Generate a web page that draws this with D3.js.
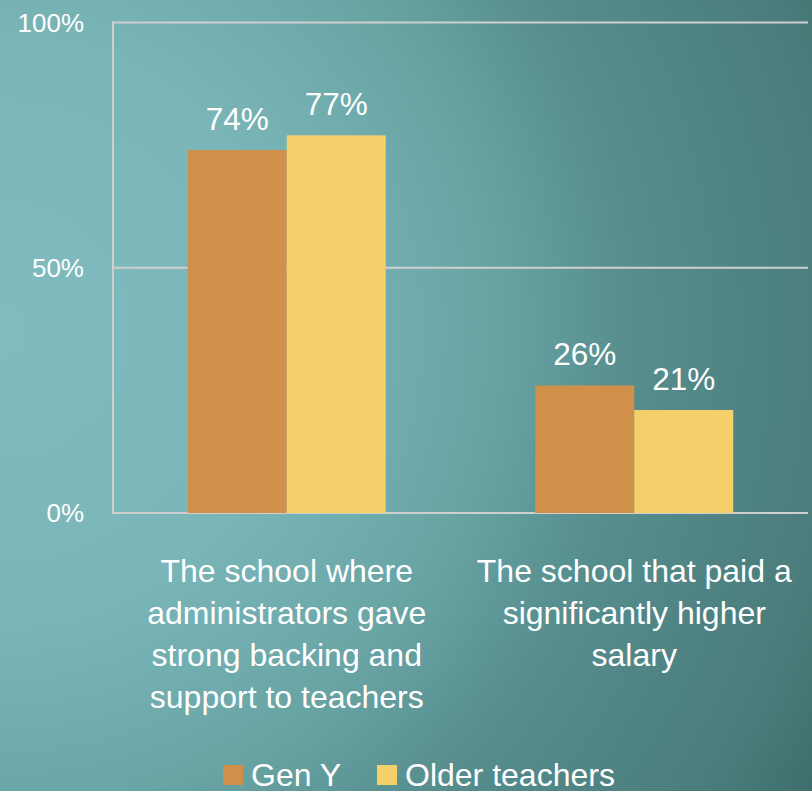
<!DOCTYPE html>
<html>
<head>
<meta charset="utf-8">
<script src="https://cdn.jsdelivr.net/npm/d3@7"></script>
<style>
html,body{margin:0;padding:0;}
svg{display:block;}
text{font-family:"Liberation Sans", Arial, sans-serif;fill:#ffffff;}
</style>
</head>
<body>
<script>
const categories = [
  ["The school where", "administrators gave", "strong backing and", "support to teachers"],
  ["The school that paid a", "significantly higher", "salary"]
];
const seriesNames = ["Gen Y", "Older teachers"];
const genY = [74, 26];
const older = [77, 21];
const yTicks = [0, 50, 100];
const colors = ["#d0904a", "#f4d06a"];

const W = 812, H = 791;
const margin = {left: 113, right: 4, top: 22.5, bottom: 278};
const svg = d3.select("body").append("svg").attr("width", W).attr("height", H);

const defs = svg.append("defs");
const grad = defs.append("radialGradient").attr("id","bg")
  .attr("gradientUnits","userSpaceOnUse")
  .attr("cx",0).attr("cy",330).attr("r",960).attr("fx",0).attr("fy",330);
[[0,"#80bcbf"],[0.3,"#7ab5b8"],[0.5,"#6aa5a6"],[0.66,"#568d8d"],[0.88,"#4a7c7b"],[1,"#3a6b69"]]
  .forEach(s=>grad.append("stop").attr("offset",s[0]).attr("stop-color",s[1]));
svg.append("rect").attr("width",W).attr("height",H).attr("fill","url(#bg)");

const x0 = d3.scaleBand().domain(d3.range(categories.length))
  .range([margin.left, W - margin.right]).paddingInner(0).paddingOuter(0);
const x1 = d3.scaleBand().domain(d3.range(seriesNames.length))
  .range([0, 198]);
const y = d3.scaleLinear().domain([0,100]).range([H - margin.bottom, margin.top]);

// gridlines
svg.append("g").selectAll("line").data(yTicks).join("line")
  .attr("x1", margin.left).attr("x2", W - margin.right)
  .attr("y1", d=>y(d)).attr("y2", d=>y(d))
  .attr("stroke","#cfcfcf").attr("stroke-width",2);
svg.append("line").attr("x1",margin.left).attr("x2",margin.left)
  .attr("y1",y(100)-1).attr("y2",y(0)+1).attr("stroke","#cfcfcf").attr("stroke-width",2);

// y tick labels
svg.append("g").selectAll("text").data(yTicks).join("text")
  .attr("x", 84).attr("y", d=>y(d)+9)
  .attr("text-anchor","end").attr("font-size",26)
  .text(d=>d+"%");

const data = [genY, older];
const g = svg.append("g");
categories.forEach((c,i)=>{
  const cx = x0(i) + x0.bandwidth()/2;
  const start = cx - 99;
  data.forEach((s,j)=>{
    const v = s[i];
    g.append("rect")
      .attr("x", start + x1(j)).attr("width", x1.bandwidth())
      .attr("y", y(v)).attr("height", y(0)-y(v))
      .attr("fill", colors[j]);
    g.append("text")
      .attr("x", start + x1(j) + x1.bandwidth()/2)
      .attr("y", y(v) - 20)
      .attr("text-anchor","middle").attr("font-size",31.5)
      .text(v+"%");
  });
  const t = g.append("text").attr("text-anchor","middle").attr("font-size",32);
  c.forEach((line,k)=>{
    t.append("tspan").attr("x",cx).attr("y",582 + k*42).text(line);
  });
});

// legend
const leg = svg.append("g");
const legItems = [{x:223, name:seriesNames[0], c:colors[0]},{x:377, name:seriesNames[1], c:colors[1]}];
legItems.forEach(d=>{
  leg.append("rect").attr("x",d.x).attr("y",765).attr("width",20).attr("height",20).attr("fill",d.c);
  leg.append("text").attr("x",d.x+28).attr("y",785.5).attr("font-size",32).text(d.name);
});
</script>
</body>
</html>
